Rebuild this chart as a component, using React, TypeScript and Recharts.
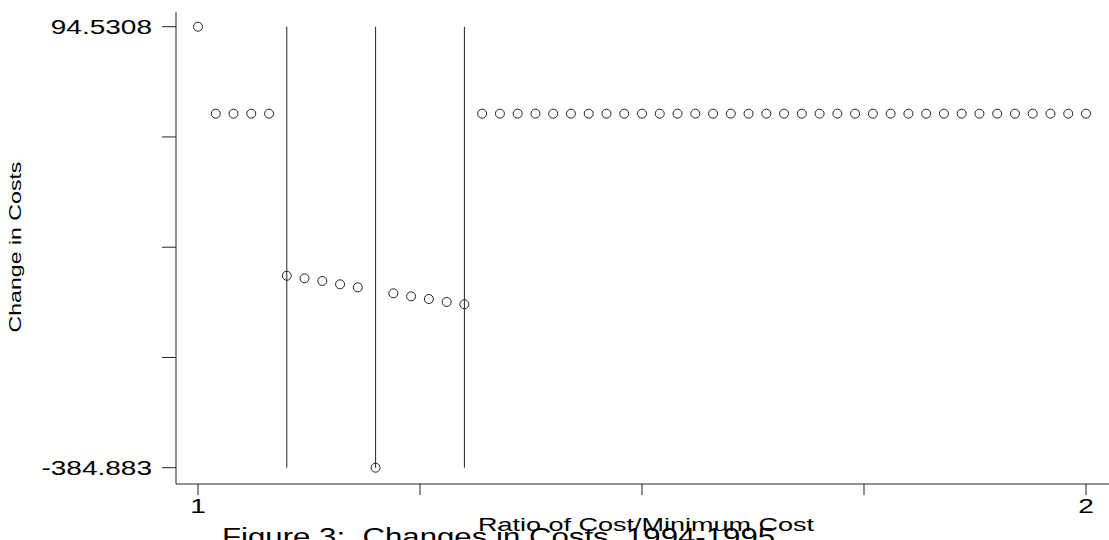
import { ScatterChart, Scatter, XAxis, YAxis, ReferenceLine } from "recharts";

// cost ratio (x) and change in costs (y)
const ratios = [
  1, 1.02, 1.04, 1.06, 1.08, 1.1, 1.12, 1.14, 1.16, 1.18, 1.2, 1.22, 1.24,
  1.26, 1.28, 1.3, 1.32, 1.34, 1.36, 1.38, 1.4, 1.42, 1.44, 1.46, 1.48, 1.5,
  1.52, 1.54, 1.56, 1.58, 1.6, 1.62, 1.64, 1.66, 1.68, 1.7, 1.72, 1.74, 1.76,
  1.78, 1.8, 1.82, 1.84, 1.86, 1.88, 1.9, 1.92, 1.94, 1.96, 1.98, 2,
];
const changes = [
  94.5308, 0, 0, 0, 0, -176.2, -179.0, -181.9, -185.5, -188.8, -384.883,
  -195.3, -198.6, -201.5, -204.7, -207.2, 0, 0, 0, 0, 0, 0, 0, 0, 0, 0, 0, 0,
  0, 0, 0, 0, 0, 0, 0, 0, 0, 0, 0, 0, 0, 0, 0, 0, 0, 0, 0, 0, 0, 0, 0,
];
const cutoffs = [1.1, 1.2, 1.3];

const xTicks = [1, 1.25, 1.5, 1.75, 2];
const xTickLabels = ["1", "", "", "", "2"];
const yTicks = [94.5308, -25.3227, -145.1765, -265.0298, -384.883];
const yTickLabels = ["94.5308", "", "", "", "-384.883"];

const data = ratios.map((x, i) => ({ x, y: changes[i] }));
const yMax = yTicks[0];
const yMin = yTicks[yTicks.length - 1];

const font = '"Liberation Sans", Arial, sans-serif';
const ink = "#222";

type StretchProps = {
  x: number;
  y: number;
  sx: number;
  size: number;
  anchor: "start" | "middle" | "end";
  rotate?: number;
  children: string;
};

// the original uses wide, horizontally stretched lettering
function Stretch({ x, y, sx, size, anchor, rotate = 0, children }: StretchProps) {
  return (
    <text
      transform={`translate(${x},${y}) rotate(${rotate}) scale(${sx},1)`}
      fontSize={size}
      fontFamily={font}
      textAnchor={anchor}
      fill="#000"
      style={{ whiteSpace: "pre" }}
    >
      {children}
    </text>
  );
}

function YTick({ x, y, payload }: any) {
  const label = yTickLabels[yTicks.indexOf(payload.value)] ?? "";
  if (!label) return null;
  return (
    <Stretch x={x} y={y + 7} sx={1.4} size={20} anchor="end">
      {label}
    </Stretch>
  );
}

function XTick({ x, y, payload }: any) {
  const label = xTickLabels[xTicks.indexOf(payload.value)] ?? "";
  if (!label) return null;
  return (
    <Stretch x={x} y={y + 18} sx={1.4} size={20} anchor="middle">
      {label}
    </Stretch>
  );
}

const Ring = (p: any) => (
  <circle cx={p.cx} cy={p.cy} r={4.5} fill="none" stroke={ink} strokeWidth={1} />
);

export default function App() {
  return (
    <div
      style={{
        position: "absolute",
        left: 0,
        top: 0,
        width: 1109,
        height: 540,
        overflow: "hidden",
        background: "#fff",
      }}
    >
      <ScatterChart
        width={1109}
        height={540}
        margin={{ top: 12, right: 0, bottom: 0, left: 0 }}
      >
        <XAxis
          type="number"
          dataKey="x"
          domain={[0.97523, 2.0259]}
          ticks={xTicks}
          height={56}
          tickSize={11}
          tickMargin={0}
          tick={<XTick />}
          axisLine={{ stroke: ink }}
          tickLine={{ stroke: ink }}
          allowDataOverflow
        />
        <YAxis
          type="number"
          dataKey="y"
          domain={[-402.6, 110.51]}
          ticks={yTicks}
          width={176}
          tickSize={14}
          tickMargin={10}
          tick={<YTick />}
          axisLine={{ stroke: ink }}
          tickLine={{ stroke: ink }}
          allowDataOverflow
        />
        {cutoffs.map((c) => (
          <ReferenceLine
            key={c}
            segment={[
              { x: c, y: yMin },
              { x: c, y: yMax },
            ]}
            stroke={ink}
            strokeWidth={1}
          />
        ))}
        <Scatter data={data} shape={Ring} isAnimationActive={false} />
      </ScatterChart>
      <svg
        width={1109}
        height={540}
        style={{ position: "absolute", left: 0, top: 0, pointerEvents: "none" }}
      >
        <Stretch x={21} y={247} sx={1.36} size={17} anchor="middle" rotate={-90}>
          Change in Costs
        </Stretch>
        <Stretch x={646} y={531} sx={1.42} size={19} anchor="middle">
          Ratio of Cost/Minimum Cost
        </Stretch>
        <Stretch x={222} y={545} sx={1.3} size={24} anchor="start">
          {"Figure 3:  Changes in Costs, 1994-1995"}
        </Stretch>
      </svg>
    </div>
  );
}
